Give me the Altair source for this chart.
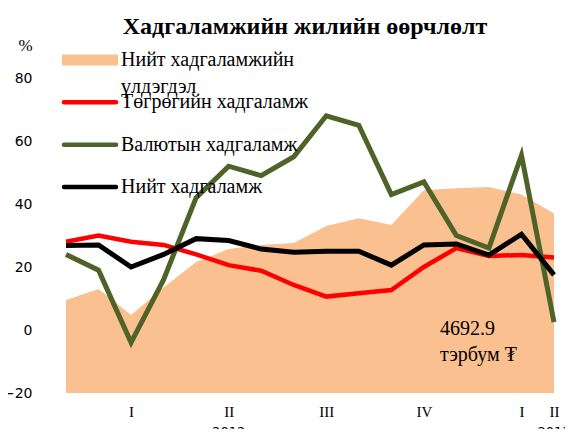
import altair as alt
import pandas as pd

# ---- data (monthly, Jan 2012 .. Apr 2013) ----
months = list(range(16))
total_balance = [9.5, 13, 4.8, 13.5, 21.6, 25.7, 27, 27.6, 33, 35.5, 33.3, 44.4, 45, 45.4, 43, 37]
mnt_deposits = [28, 30, 28, 27, 24, 20.6, 18.8, 14.3, 10.6, 11.7, 12.7, 20, 26, 23.5, 23.8, 23]
fx_deposits = [24, 19, -4, 16, 42, 52, 49, 55, 68, 65, 43, 47, 30, 26, 55.5, 2.5]
total_deposits = [26.8, 27, 20, 24, 29, 28.4, 25.7, 24.7, 25, 25, 20.6, 27, 27.3, 23.8, 30.4, 17.5]

series_names = ["Нийт хадгаламжийн үлдэгдэл", "Төгрөгийн хадгаламж", "Валютын хадгаламж", "Нийт хадгаламж"]
legend_labels = ["Нийт хадгаламжийн\nүлдэгдэл", "Төгрөгийн хадгаламж", "Валютын хадгаламж", "Нийт хадгаламж"]
series_colors = ["#FAC090", "#FF0000", "#4F6228", "#000000"]

tick_positions = [2, 5, 8, 11, 14, 15]
tick_labels = ["I", "II", "III", "IV", "I", "II"]
year_positions = [5, 15]
year_labels = ["2012", "2013"]
y_ticks = [-20, 0, 20, 40, 60, 80]
note_text = ["4692.9\nтэрбум ₮"]
title_text = "Хадгаламжийн жилийн өөрчлөлт"

# ---- tables ----
area_df = pd.DataFrame({"m": months, "v": total_balance})
line_df = pd.concat([
    pd.DataFrame({"m": months, "v": vals, "series": name})
    for name, vals in zip(series_names[1:], [mnt_deposits, fx_deposits, total_deposits])
])
year_df = pd.DataFrame({"m": year_positions, "label": year_labels})
legend_df = pd.DataFrame({"series": series_names, "label": legend_labels})
note_df = pd.DataFrame({"note": note_text})

label_expr = " : ".join(f"datum.value == {p} ? '{l}'" for p, l in zip(tick_positions, tick_labels)) + " : ''"

X = alt.X("m:Q", scale=alt.Scale(domain=[0, 15], nice=False, zero=False),
          axis=alt.Axis(values=tick_positions, labelExpr=label_expr, title=None, grid=False,
                        domain=False, ticks=False, labelFont="Liberation Serif", labelFontSize=15,
                        labelPadding=11, labelOverlap=False, labelFlush=False, labelColor="black"))
Y = alt.Y("v:Q", scale=alt.Scale(domain=[-20, 80], nice=False, zero=False),
          axis=alt.Axis(values=y_ticks, title="%", titleAngle=0, titleX=-41, titleY=-33,
                        titleAlign="center", titleBaseline="middle", titleFont="Liberation Serif",
                        titleFontSize=17, titleFontWeight="normal", titleColor="black",
                        grid=False, domain=False, ticks=False, labelFont="DejaVu Sans",
                        labelFontSize=14, labelPadding=34, labelColor="black"))

area = alt.Chart(area_df).mark_area(color=series_colors[0], opacity=1).encode(
    x=X, y=Y, y2=alt.datum(-20))

line_layers = []
widths = [4.5, 5, 5]
for name, col, w in zip(series_names[1:], series_colors[1:], widths):
    line_layers.append(
        alt.Chart(line_df).transform_filter(alt.datum.series == name)
        .mark_line(color=col, strokeWidth=w, strokeJoin="miter")
        .encode(x=X, y=Y)
    )

years = alt.Chart(year_df).mark_text(font="DejaVu Sans", fontSize=13, color="black",
                                     baseline="middle", align="center").encode(
    x=alt.X("m:Q"), y=alt.value(354), text="label:N")

note = alt.Chart(note_df).mark_text(font="Liberation Serif, DejaVu Serif, serif", fontSize=20,
                                    color="black", align="left", baseline="middle",
                                    lineBreak="\n", lineHeight=26).encode(
    x=alt.value(374), y=alt.value(251), text="note:N")

main = alt.layer(area, *line_layers, years, note)

LY = alt.Y("series:N", scale=alt.Scale(type="point", domain=series_names, range=[-18, 109], padding=0),
           axis=None)
legend_area = alt.Chart(legend_df).transform_filter(alt.datum.series == series_names[0]).mark_rule(
    strokeWidth=11, color=series_colors[0], strokeCap="butt").encode(
    x=alt.value(-4), x2=alt.value(52), y=LY)
legend_lines = alt.Chart(legend_df).transform_filter(alt.datum.series != series_names[0]).mark_rule(
    strokeWidth=4.5, strokeCap="round").encode(
    x=alt.value(-2), x2=alt.value(50), y=LY,
    color=alt.Color("series:N", scale=alt.Scale(domain=series_names, range=series_colors), legend=None))
legend_text = alt.Chart(legend_df).mark_text(align="left", baseline="middle", lineBreak="\n",
                                             lineHeight=27, font="Liberation Serif", fontSize=20,
                                             color="black").encode(
    x=alt.value(55), y=LY, text="label:N")

legend = alt.layer(legend_area, legend_lines, legend_text)

chart = alt.layer(main, legend).resolve_scale(y="independent").properties(
    width=488, height=315,
    autosize=alt.AutoSizeParams(type="none"),
    padding={"left": 58, "top": 70, "right": 11, "bottom": 36},
    title=alt.Title(title_text, font="Liberation Serif", fontSize=24, fontWeight="bold",
                    color="black", anchor="middle", frame="group", dx=-5, dy=4, offset=1),
).configure_view(stroke=None)

chart.save("out.html", embed_options={"renderer": "svg", "actions": False})
